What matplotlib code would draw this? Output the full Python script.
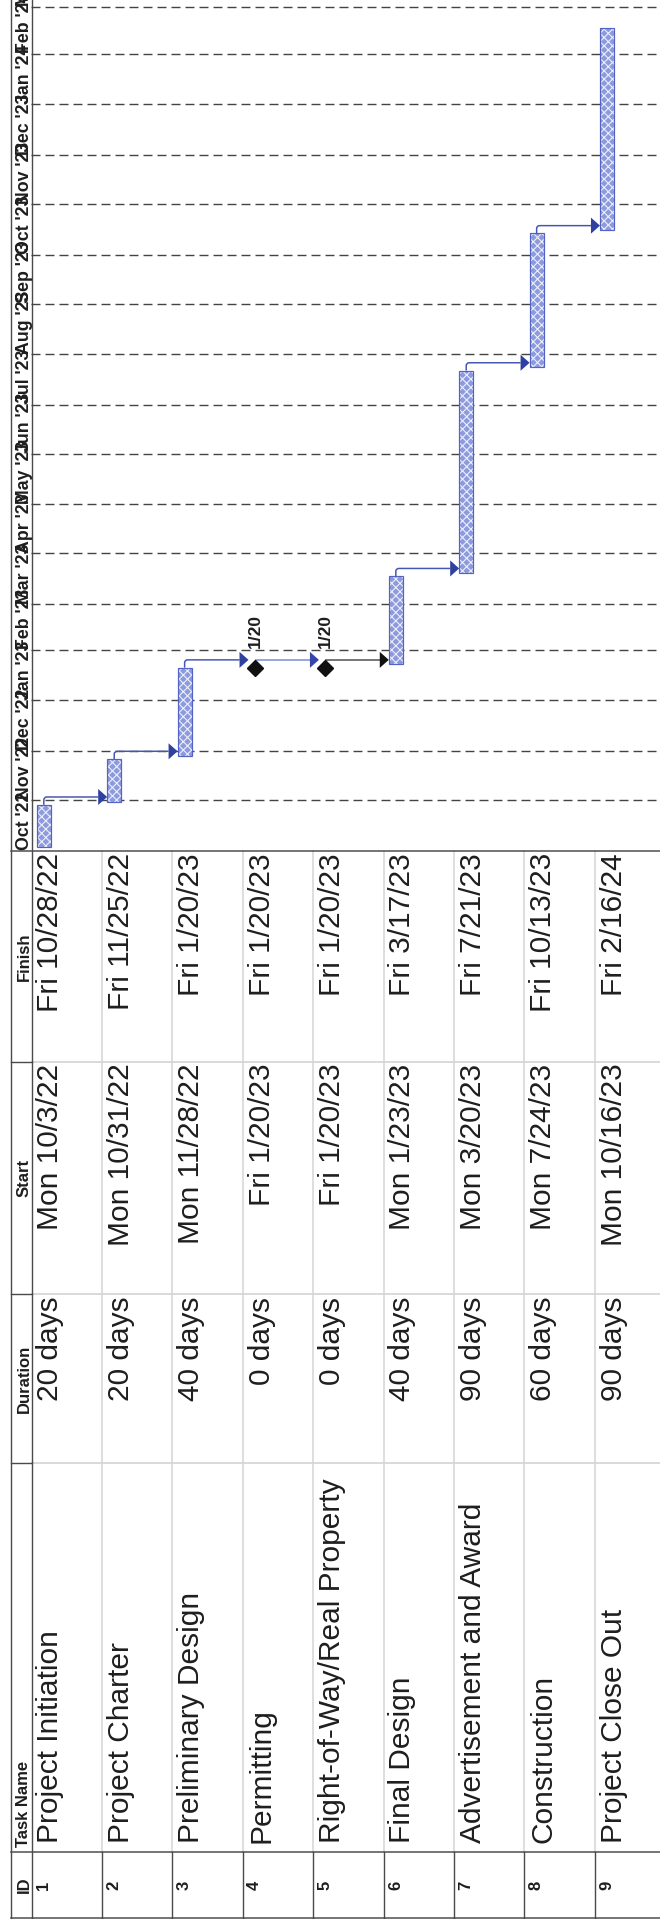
import datetime as dt

import matplotlib
matplotlib.use("Agg")
import matplotlib.pyplot as plt
import matplotlib.dates as mdates
from matplotlib.path import Path
from matplotlib.patches import PathPatch, Polygon

plt.rcParams['font.family'] = ['Liberation Sans', 'DejaVu Sans']
plt.rcParams['lines.scale_dashes'] = False
plt.rcParams['hatch.linewidth'] = 0.8

# schedule
task_ids = [1, 2, 3, 4, 5, 6, 7, 8, 9]
task_names = ["Project Initiation", "Project Charter", "Preliminary Design",
              "Permitting", "Right-of-Way/Real Property", "Final Design",
              "Advertisement and Award", "Construction", "Project Close Out"]
duration_days = [20, 20, 40, 0, 0, 40, 90, 60, 90]
start_dates = ["2022-10-03", "2022-10-31", "2022-11-28", "2023-01-20", "2023-01-20",
               "2023-01-23", "2023-03-20", "2023-07-24", "2023-10-16"]
finish_dates = ["2022-10-28", "2022-11-25", "2023-01-20", "2023-01-20", "2023-01-20",
                "2023-03-17", "2023-07-21", "2023-10-13", "2024-02-16"]
links = [(1, 2), (2, 3), (3, 4), (4, 5), (5, 6), (6, 7), (7, 8), (8, 9)]

view_start = dt.date(2022, 10, 1)
view_end = dt.date(2024, 3, 5)

# page geometry (pixels, measured from the top-left corner)
W, H = 660, 1919
X_EDGE = 10.5          # outer border
X0 = 31.5              # right edge of the header strip
ROW = 70.4             # row height
CHART_BOTTOM = 850.5   # gantt / table divider
COL_ID = 1852          # ID | Task Name
COL_NAME = 1463        # Task Name | Duration
COL_DUR = 1294         # Duration | Start
COL_START = 1062       # Start | Finish
TABLE_BOTTOM = 1918
PX = 0.72              # one pixel in points at 100 dpi

DARK = '#4a4a4a'
LIGHT = '#d6d6d6'
TEXT = '#1e1e1e'

starts = [dt.date.fromisoformat(s) for s in start_dates]
finishes = [dt.date.fromisoformat(s) for s in finish_dates]
px_per_day = CHART_BOTTOM / (view_end - view_start).days


def row_left(i):
    return X0 + ROW * i


def fmt_day(d):
    return f"{d:%a} {d.month}/{d.day}/{d:%y}"


fig = plt.figure(figsize=(W / 100, H / 100), dpi=100)

# --- table grid and text, pixel coordinates ---
grid = fig.add_axes([0, 0, 1, 1])
grid.set_xlim(0, W)
grid.set_ylim(H, 0)
grid.axis('off')

n = len(task_ids)
for i in range(1, n + 1):
    x = row_left(i)
    grid.plot([x, x], [CHART_BOTTOM, COL_ID], color=LIGHT, lw=1.6 * PX)
    grid.plot([x, x], [COL_ID, TABLE_BOTTOM], color=DARK, lw=1.4 * PX)
for y in [COL_NAME, COL_DUR, COL_START]:
    grid.plot([X0, W], [y, y], color=LIGHT, lw=1.8 * PX)
    grid.plot([X_EDGE, X0], [y, y], color=DARK, lw=1.4 * PX)
for y in [CHART_BOTTOM, COL_ID, TABLE_BOTTOM]:
    grid.plot([X_EDGE, W], [y, y], color=DARK, lw=1.5 * PX)
for x in [X_EDGE, X0]:
    grid.plot([x, x], [0, TABLE_BOTTOM], color=DARK, lw=1.4 * PX)

hdr = dict(rotation=90, rotation_mode='anchor', va='baseline', fontsize=12,
           fontweight='bold', color=TEXT)
grid.text(28.5, (COL_ID + TABLE_BOTTOM) / 2, "ID", ha='center', **hdr)
grid.text(28.5, COL_ID - 5, "Task Name", ha='left', **hdr)
grid.text(28.5, (COL_NAME + COL_DUR) / 2, "Duration", ha='center', **hdr)
grid.text(28.5, (COL_DUR + COL_START) / 2, "Start", ha='center', **hdr)
grid.text(28.5, (COL_START + CHART_BOTTOM) / 2, "Finish", ha='center', **hdr)

body = dict(rotation=90, rotation_mode='anchor', va='baseline', fontsize=21.5,
            color=TEXT)
for i in range(n):
    xb = row_left(i) + 27
    grid.text(row_left(i) + 16.5, (COL_ID + TABLE_BOTTOM) / 2, str(task_ids[i]),
              rotation=90, rotation_mode='anchor', va='baseline', ha='center',
              fontsize=12, fontweight='bold', color=TEXT)
    grid.text(xb, COL_ID - 9, task_names[i], ha='left', **body)
    grid.text(xb, COL_DUR + 2.5, f"{duration_days[i]} days", ha='right', **body)
    grid.text(xb, COL_START + 1.5, fmt_day(starts[i]), ha='right', **body)
    grid.text(xb, CHART_BOTTOM + 2.5, fmt_day(finishes[i]), ha='right', **body)

# --- gantt chart, x in rows, y in dates ---
gantt = fig.add_axes([0, (H - CHART_BOTTOM) / H, 1, CHART_BOTTOM / H])
gantt.patch.set_visible(False)
gantt.set_xlim(-X0 / ROW, (W - X0) / ROW)
gantt.set_ylim(mdates.date2num(view_start), mdates.date2num(view_end))
gantt.axis('off')

# month grid and timescale labels
months = []
m = view_start
while m <= view_end:
    months.append(m)
    m = dt.date(m.year + (m.month == 12), m.month % 12 + 1, 1)
month_num = mdates.date2num(months)
gantt.hlines(month_num[1:], 0, (W - X0) / ROW, color='#444444', lw=1.4 * PX,
             linestyles=[(0, (9 * PX, 5 * PX))])
for d, y in zip(months, month_num):
    gantt.text((29 - X0) / ROW, y + 0.5 / px_per_day, f"{d:%b} '{d:%y}",
               rotation=90, rotation_mode='anchor', ha='left', va='baseline',
               fontsize=12.8, fontweight='bold', color=TEXT, clip_on=False)

BAR_OFF, BAR_W = 0.075, 0.2
centers = [i + BAR_OFF + BAR_W / 2 for i in range(n)]
start_num = mdates.date2num(starts)
end_num = mdates.date2num(finishes) + 1     # bars run to the end of the finish day

is_task = [dd > 0 for dd in duration_days]
bx = [c for c, t in zip(centers, is_task) if t]
bb = [s for s, t in zip(start_num, is_task) if t]
bh = [e - s for s, e, t in zip(start_num, end_num, is_task) if t]
gantt.bar(bx, bh, width=BAR_W, bottom=bb, color='#8e9ade', edgecolor='#eceffb',
          hatch='xxxx', lw=0, zorder=3)
gantt.bar(bx, bh, width=BAR_W, bottom=bb, fill=False, edgecolor='#5263c4',
          lw=1.2 * PX, zorder=4)

mx = [c for c, t in zip(centers, is_task) if not t]
my = [e for e, t in zip(end_num, is_task) if not t]
gantt.plot(mx, my, 'D', ms=8, color='#111111', zorder=5)
for i in range(n):
    if not is_task[i]:
        gantt.text(centers[i] + 4.5 / ROW, end_num[i] + 20 / px_per_day,
                   f"{finishes[i].month}/{finishes[i].day}", rotation=90,
                   rotation_mode='anchor', ha='left', va='baseline',
                   fontsize=12.5, fontweight='bold', color=TEXT, zorder=5)

# finish-to-start links
link_style = {(4, 5): ('#7b89d2', '#3546a8'), (5, 6): ('#4d4d4d', '#111111')}
rise = 7.8 / px_per_day
corner_x, corner_y = 3 / ROW, 3 / px_per_day
head_len, head_half = 9 / ROW, 8 / px_per_day
diamond_half = 6.5 / ROW
for p, s in links:
    pi, si = task_ids.index(p), task_ids.index(s)
    line_c, head_c = link_style.get((p, s), ('#4456b4', '#2f40a0'))
    ly = end_num[pi] + rise
    x0 = centers[pi]
    tip = si + BAR_OFF if is_task[si] else centers[si] - diamond_half
    if is_task[pi]:
        verts = [(x0, end_num[pi]), (x0, ly - corner_y), (x0, ly),
                 (x0 + corner_x, ly), (tip - head_len, ly)]
        codes = [Path.MOVETO, Path.LINETO, Path.CURVE3, Path.CURVE3, Path.LINETO]
    else:
        verts = [(x0, ly), (tip - head_len, ly)]
        codes = [Path.MOVETO, Path.LINETO]
    gantt.add_patch(PathPatch(Path(verts, codes), fill=False, edgecolor=line_c,
                              lw=1.5 * PX, zorder=4))
    gantt.add_patch(Polygon([(tip, ly), (tip - head_len, ly + head_half),
                             (tip - head_len, ly - head_half)], closed=True,
                            color=head_c, lw=0, zorder=5))

fig.savefig('out.png', dpi=100)
